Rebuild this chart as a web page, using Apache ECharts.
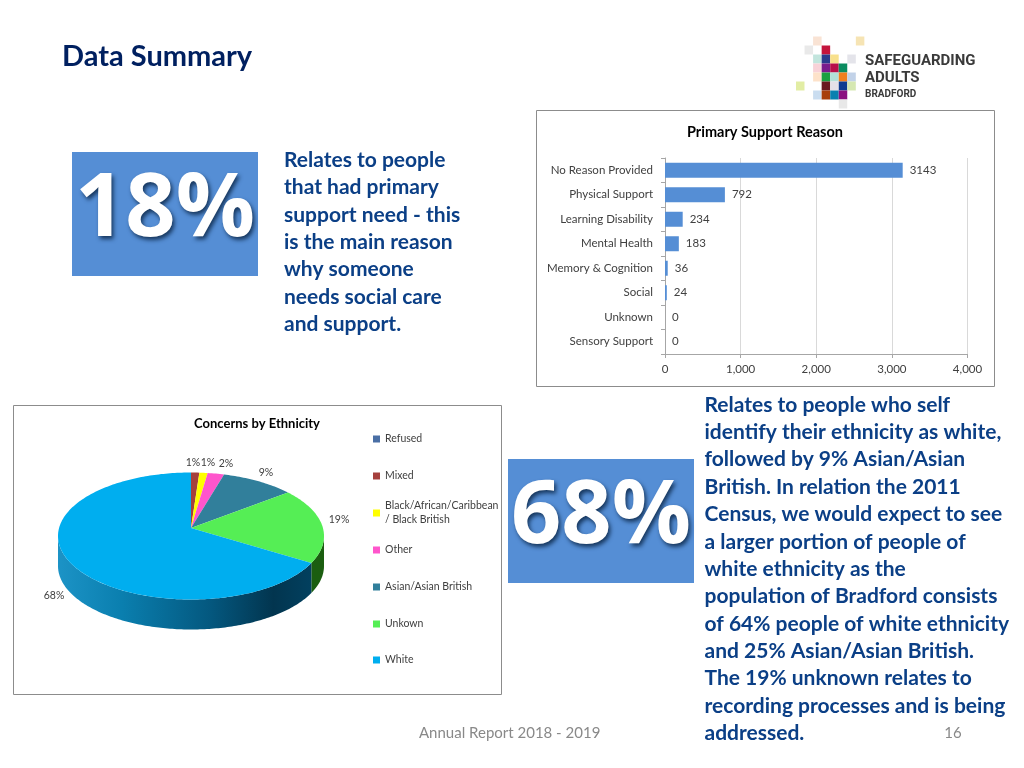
<!DOCTYPE html>
<html><head><meta charset="utf-8">
<style>html,body{margin:0;padding:0;background:#fff}#c{width:1024px;height:768px}</style>
<script src="https://cdn.jsdelivr.net/npm/echarts@6/dist/echarts.min.js"></script>
</head><body><div id="c"></div>
<script>
// ---- data ----
const barCategories = ['No Reason Provided','Physical Support','Learning Disability','Mental Health','Memory & Cognition','Social','Unknown','Sensory Support'];
const barValues = [3143,792,234,183,36,24,0,0];
const pieCategories = ['Refused','Mixed','Black/African/Caribbean\n/ Black British','Other','Asian/Asian British','Unkown','White'];
const pieValues = [0,1,1,2,9,19,68];
const pieColors = ['#4A6FA5','#A5403D','#FFFF00','#FF55CC','#317F9B','#55EE55','#00AEEF'];
const paragraphOne = ['Relates to people','that had primary','support need - this','is the main reason','why someone','needs social care','and support.'];
const paragraphTwo = ['Relates to people who self','identify their ethnicity as white,','followed by 9% Asian/Asian','British. In relation the 2011','Census, we would expect to see','a larger portion of people of','white ethnicity as the','population of Bradford consists','of 64% people of white ethnicity','and 25% Asian/Asian British.','The 19% unknown relates to','recording processes and is being','addressed.'];
// ---- layout and style ----
const FONT = 'Lato';
const NAVY = '#0B3F86';
const pie = {cx:191, cy:536, rx:133, ry:63.5, apexY:528, depth:30};
const pieLabelPos = [null,[193,463],[208,463],[226,464],[266,473],[339,520],[54,596]];
const legendRow = [439,476,513,550,587,624,660];
const logoCells = [
 [2,0,'#F9E3D4'],[7,0,'#F6E4B4'],[1,1,'#E9E9E9'],[3,1,'#C4143C'],[2,2,'#C2E5DD'],[3,2,'#2A3A8C'],[4,2,'#F8E08C'],[6,2,'#E4E4EA'],
 [2,3,'#F8D2D8'],[3,3,'#7A1A8C'],[4,3,'#B8104A'],[5,3,'#0A8C60'],[2,4,'#FDE2CA'],[3,4,'#18A040'],[4,4,'#B2E0D8'],[5,4,'#F08020'],[6,4,'#C2D2E8'],
 [0,5,'#E2EDA4'],[3,5,'#6A1A20'],[4,5,'#E4E0E8'],[5,5,'#103C90'],[6,5,'#D6E8B2'],[2,6,'#CADDF0'],[3,6,'#A8400C'],[4,6,'#0880B0'],[5,6,'#8A1080'],[5,7,'#E8E8E8']];

const txt = (x,y,text,size,fill,extra) => ({type:'text',z:-1,x,y,style:Object.assign({text,fontFamily:FONT,fontSize:size,fill,verticalAlign:'middle',align:'left'},extra||{})});
const lineTexts = (lines,x,y0,step,size) => lines.map((t,i)=>txt(x,y0+i*step,t,size,NAVY,{fontWeight:'bold'}));
const bigBox = (x,y,w,h,t) => [
  {type:'rect',z:-1,shape:{x,y,width:w,height:h},style:{fill:'#558ED5'}},
  txt(x+w/2,y+h/2-3,t,88,'#fff',{fontWeight:'bold',align:'center',fontFamily:'Open Sans',textShadowColor:'#17375E',textShadowBlur:4,textShadowOffsetX:2,textShadowOffsetY:3})];
const panel = (x,y,w,h)=>({type:'rect',z:-1,shape:{x,y,width:w,height:h},style:{fill:'#fff',stroke:'#8C8C8C',lineWidth:1}});

const graphics = [
  txt(62,57,'Data Summary',29,'#002060',{fontWeight:'bold'}),
  ...bigBox(72,152,186,124,'18%'),
  ...bigBox(508,459,186,124,'68%'),
  ...lineTexts(paragraphOne,284,160,27.4,21),
  ...lineTexts(paragraphTwo,704.5,405,27.35,21),
  panel(536.5,110.5,458,276),
  panel(13.5,405.5,488,289),
  txt(419,733,'Annual Report 2018 - 2019',15,'#898989'),
  txt(953,733,'16',15,'#898989',{align:'center'}),
  ...logoCells.map(c=>({type:'rect',z:-1,shape:{x:796+c[0]*8.55,y:36.5+c[1]*9,width:8.5,height:9},style:{fill:c[2]}})),
  txt(865,61,'SAFEGUARDING',15,'#3A3A3A',{fontWeight:'bold',fontFamily:'Roboto'}),
  txt(865,78,'ADULTS',15,'#3A3A3A',{fontWeight:'bold',fontFamily:'Roboto'}),
  txt(865,94,'BRADFORD',10,'#3A3A3A',{fontWeight:'bold',fontFamily:'Roboto'})
];

const rim = t => {const a=t*Math.PI/180; return [pie.cx+pie.rx*Math.sin(a), pie.cy-pie.ry*Math.cos(a)];};
const range = (a,b) => {const out=[],n=Math.max(1,Math.ceil(b-a));for(let i=0;i<=n;i++)out.push(a+(b-a)*i/n);return out;};
const total = pieValues.reduce((s,v)=>s+v,0);
const sliceRender = idx => () => {
  const v = pieValues[idx];
  if(!v) return {type:'group',children:[]};
  const before = pieValues.slice(0,idx).reduce((s,x)=>s+x,0);
  const t0 = before/total*360, t1 = (before+v)/total*360;
  const children = [];
  const s0 = Math.max(t0,90), s1 = Math.min(t1,270);
  if(s1>s0){
    const top = range(s0,s1).map(rim);
    const bottom = top.slice().reverse().map(p=>[p[0],p[1]+pie.depth]);
    const fill = idx===6
      ? new echarts.graphic.LinearGradient(0,0,1,0,[{offset:0,color:'#1C93C6'},{offset:0.25,color:'#0A7FAF'},{offset:0.6,color:'#04587F'},{offset:0.85,color:'#02354F'},{offset:1,color:'#02405F'}])
      : '#1B5E10';
    children.push({type:'polygon',shape:{points:top.concat(bottom)},style:{fill}});
  }
  children.push({type:'polygon',shape:{points:[[pie.cx,pie.apexY],...range(t0,t1).map(rim)]},style:{fill:pieColors[idx]}});
  const lp = pieLabelPos[idx];
  if(lp) children.push({type:'text',x:lp[0],y:lp[1],style:{text:v+'%',fontFamily:FONT,fontSize:10.5,fill:'#404040',align:'center',verticalAlign:'middle'}});
  return {type:'group',children};
};

const pieSeries = pieCategories.map((name,i)=>({
  type:'custom',name,coordinateSystem:'none',data:[pieValues[i]],
  itemStyle:{color:pieColors[i]},silent:true,animation:false,renderItem:sliceRender(i),z:3
}));

const legends = pieCategories.map((name,i)=>({
  data:[name],left:373,top:legendRow[i]-(name.includes('\n')?21:7),orient:'vertical',padding:0,
  itemWidth:7,itemHeight:7,itemGap:0,selectedMode:false,icon:'rect',
  textStyle:{fontFamily:FONT,fontSize:10.5,color:'#404040',lineHeight:14,padding:name.includes('\n')?[14,0,0,0]:0}
}));

const chart = echarts.init(document.getElementById('c'),null,{renderer:'canvas'});
chart.setOption({
  animation:false,backgroundColor:'#fff',
  title:[
    {text:'Primary Support Reason',left:765,top:132,textAlign:'center',textVerticalAlign:'middle',padding:0,textStyle:{fontFamily:FONT,fontWeight:'bold',fontSize:14.5,color:'#000'}},
    {text:'Concerns by Ethnicity',left:257,top:424,textAlign:'center',textVerticalAlign:'middle',padding:0,textStyle:{fontFamily:FONT,fontWeight:'bold',fontSize:13,color:'#000'}}
  ],
  legend:legends,
  grid:{left:665,top:158,width:302.5,height:196,containLabel:false},
  xAxis:{type:'value',min:0,max:4000,interval:1000,
    axisLine:{show:true,lineStyle:{color:'#A6A6A6'}},axisTick:{show:true,length:4,lineStyle:{color:'#A6A6A6'}},
    splitLine:{show:true,lineStyle:{color:'#D9D9D9'}},
    axisLabel:{fontFamily:FONT,fontSize:11.5,color:'#404040',margin:9}},
  yAxis:{type:'category',inverse:true,data:barCategories,
    axisLine:{show:true,lineStyle:{color:'#A6A6A6'}},axisTick:{show:true,length:4,lineStyle:{color:'#A6A6A6'}},
    axisLabel:{fontFamily:FONT,fontSize:11.5,color:'#404040',margin:12}},
  series:[{type:'bar',name:'Primary Support Reason',data:barValues,barWidth:15,itemStyle:{color:'#558ED5'},
    label:{show:true,position:'right',distance:7,fontFamily:FONT,fontSize:11.5,color:'#404040'}},...pieSeries],
  graphic:graphics
});
</script></body></html>
